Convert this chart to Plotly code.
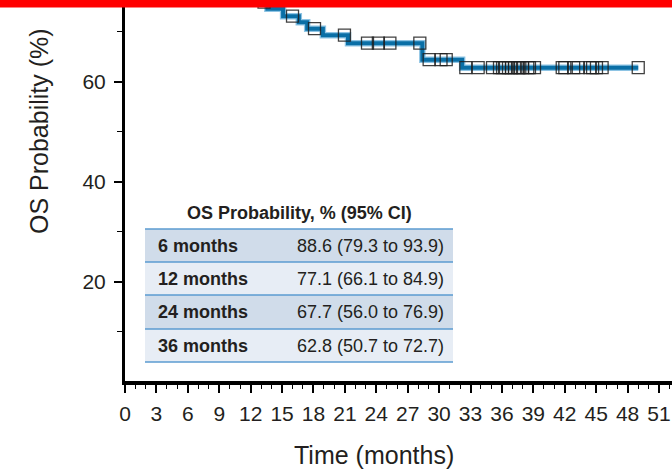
import plotly.graph_objects as go

# ---------------- data ----------------
# Kaplan-Meier step curve (month at which the level starts, OS %)
step_times = [12.0, 12.6, 13.6, 15.1, 16.6, 17.4, 18.9, 21.3, 28.4, 32.2, 49.02]
step_surv = [77.1, 75.9, 74.6, 73.1, 71.9, 70.6, 69.3, 67.7, 64.4, 62.8, 62.8]

# censoring times (months)
censor_times = [13.28, 16.0, 18.1, 20.96,
                23.16, 24.2, 25.3, 28.16,
                29.05, 30.18, 30.68,
                32.55, 33.73, 35.10, 35.77, 36.06, 36.34, 36.63, 36.92, 37.20,
                37.56, 37.71, 37.97, 38.47, 38.63, 39.11,
                41.76, 42.01, 42.85, 43.29, 44.40, 44.66, 45.03, 45.57,
                49.02]

x_tickvals = list(range(0, 52, 3))
y_tickvals = [20, 40, 60]
y_minor_tickvals = [10, 30, 50, 70]

table_header = "OS Probability, % (95% CI)"
table_labels = ["6 months", "12 months", "24 months", "36 months"]
table_values = ["88.6 (79.3 to 93.9)", "77.1 (66.1 to 84.9)",
                "67.7 (56.0 to 76.9)", "62.8 (50.7 to 72.7)"]

x_title = "Time (months)"
y_title = "OS Probability (%)"


def level_at(t):
    lvl = step_surv[0]
    for st, sv in zip(step_times, step_surv):
        if st <= t:
            lvl = sv
    return lvl


censor_surv = [level_at(t) for t in censor_times]

# ---------------- layout geometry (pixels) ----------------
FIG_W, FIG_H = 672, 474
L, R, T, B = 125, 672, 0, 381
W, H = R - L, B - T
PX_PER_MONTH = 10.47
PX_PER_PCT = 5.0
y_lo = (381.7 - B) / PX_PER_PCT
y_hi = y_lo + H / PX_PER_PCT
x_hi = W / PX_PER_MONTH


def px_x(p):
    return (p - L) / W


def px_y(p):
    return (B - p) / H


TEXT = "#231f20"
FONT = "Liberation Sans, Arial, sans-serif"

fig = go.Figure()

# halo line
fig.add_trace(go.Scatter(x=step_times, y=step_surv, mode="lines",
                         line=dict(shape="hv", color="#8ec4e4", width=6.5),
                         hoverinfo="skip", showlegend=False))
# core line
fig.add_trace(go.Scatter(x=step_times, y=step_surv, mode="lines",
                         line=dict(shape="hv", color="#0a6fa6", width=4),
                         hoverinfo="skip", showlegend=False))
# censor marks
fig.add_trace(go.Scatter(x=censor_times, y=censor_surv, mode="markers",
                         marker=dict(symbol="square-open", size=12,
                                     color="rgba(30,30,30,0.85)",
                                     line=dict(width=1.3, color="rgba(30,30,30,0.85)")),
                         hoverinfo="skip", showlegend=False))

shapes = []
annotations = []

# red bar at top
shapes.append(dict(type="rect", xref="paper", yref="paper",
                   x0=px_x(0), x1=px_x(FIG_W), y0=px_y(7.5), y1=px_y(-2),
                   fillcolor="#ff0000", line=dict(width=0), layer="above"))

# table
row_edges = [229, 262, 295, 329, 362]
row_fill = ["#d0dcea", "#e7edf5", "#d0dcea", "#e7edf5"]
tx0, tx1 = 145, 453
for i in range(4):
    shapes.append(dict(type="rect", xref="paper", yref="paper",
                       x0=px_x(tx0), x1=px_x(tx1),
                       y0=px_y(row_edges[i + 1]), y1=px_y(row_edges[i]),
                       fillcolor=row_fill[i], line=dict(width=0), layer="above"))
for e in row_edges:
    shapes.append(dict(type="line", xref="paper", yref="paper",
                       x0=px_x(tx0), x1=px_x(tx1), y0=px_y(e), y1=px_y(e),
                       line=dict(color="#5b9bd0", width=1.5), layer="above"))

annotations.append(dict(xref="paper", yref="paper", x=px_x(299), y=px_y(213),
                        text="<b>" + table_header + "</b>", showarrow=False,
                        xanchor="center", yanchor="middle",
                        font=dict(family=FONT, size=18, color=TEXT)))
for i in range(4):
    yc = (row_edges[i] + row_edges[i + 1]) / 2
    annotations.append(dict(xref="paper", yref="paper", x=px_x(156), y=px_y(yc),
                            text="<b>" + table_labels[i] + "</b>", showarrow=False,
                            xanchor="left", yanchor="middle",
                            font=dict(family=FONT, size=18, color=TEXT)))
    annotations.append(dict(xref="paper", yref="paper", x=px_x(446), y=px_y(yc),
                            text=table_values[i], showarrow=False,
                            xanchor="right", yanchor="middle",
                            font=dict(family=FONT, size=18, color=TEXT)))

# axis titles
annotations.append(dict(xref="paper", yref="paper", x=px_x(39), y=px_y(131),
                        text=y_title, textangle=-90, showarrow=False,
                        xanchor="center", yanchor="middle",
                        font=dict(family=FONT, size=25, color=TEXT)))
annotations.append(dict(xref="paper", yref="paper", x=px_x(374), y=px_y(455),
                        text=x_title, showarrow=False,
                        xanchor="center", yanchor="middle",
                        font=dict(family=FONT, size=25, color=TEXT)))

fig.update_layout(
    width=FIG_W, height=FIG_H,
    margin=dict(l=L, r=FIG_W - R, t=T, b=FIG_H - B, pad=0),
    paper_bgcolor="white", plot_bgcolor="white",
    showlegend=False,
    shapes=shapes, annotations=annotations,
    xaxis=dict(range=[0, x_hi], tickvals=x_tickvals, ticktext=[str(v) for v in x_tickvals],
               showgrid=False, zeroline=False, showline=True, linecolor="black", linewidth=3.5,
               ticks="outside", ticklen=8, tickwidth=1.5, tickcolor="black",
               ticklabelstandoff=3,
               minor=dict(dtick=1, tick0=0, ticks="outside", ticklen=4.5, tickwidth=1.2,
                          tickcolor="black", showgrid=False),
               tickfont=dict(family=FONT, size=21, color=TEXT), fixedrange=True),
    yaxis=dict(range=[y_lo, y_hi], tickvals=y_tickvals, ticktext=[str(v) for v in y_tickvals],
               showgrid=False, zeroline=False, showline=True, linecolor="black", linewidth=3,
               ticks="outside", ticklen=8, tickwidth=1.5, tickcolor="black",
               ticklabelstandoff=4,
               minor=dict(tickvals=y_minor_tickvals, ticks="outside", ticklen=5, tickwidth=1.2,
                          tickcolor="black", showgrid=False),
               tickfont=dict(family=FONT, size=21, color=TEXT), fixedrange=True),
)

fig.write_html("out.html")
